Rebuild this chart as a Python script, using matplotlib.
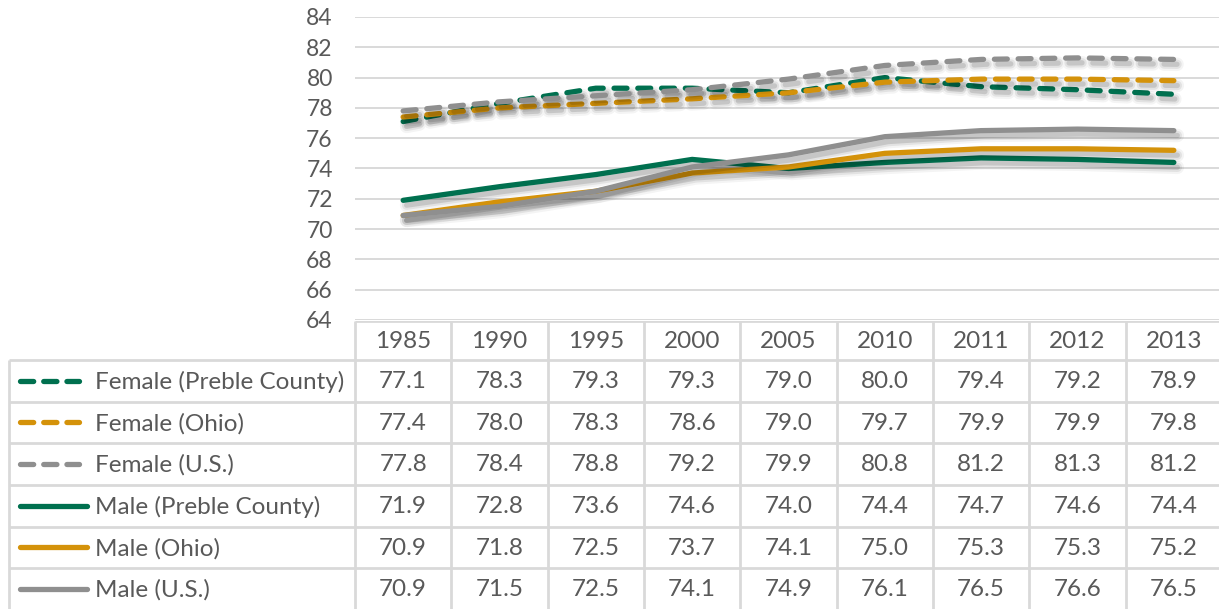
import matplotlib
matplotlib.use("Agg")
import matplotlib.pyplot as plt
import matplotlib.patheffects as pe
from matplotlib.lines import Line2D

# ---- data -------------------------------------------------------------
years = ["1985", "1990", "1995", "2000", "2005", "2010", "2011", "2012", "2013"]

series_names = [
    "Female (Preble County)",
    "Female (Ohio)",
    "Female (U.S.)",
    "Male (Preble County)",
    "Male (Ohio)",
    "Male (U.S.)",
]
female_preble = [77.1, 78.3, 79.3, 79.3, 79.0, 80.0, 79.4, 79.2, 78.9]
female_ohio = [77.4, 78.0, 78.3, 78.6, 79.0, 79.7, 79.9, 79.9, 79.8]
female_us = [77.8, 78.4, 78.8, 79.2, 79.9, 80.8, 81.2, 81.3, 81.2]
male_preble = [71.9, 72.8, 73.6, 74.6, 74.0, 74.4, 74.7, 74.6, 74.4]
male_ohio = [70.9, 71.8, 72.5, 73.7, 74.1, 75.0, 75.3, 75.3, 75.2]
male_us = [70.9, 71.5, 72.5, 74.1, 74.9, 76.1, 76.5, 76.6, 76.5]

y_ticks = [64, 66, 68, 70, 72, 74, 76, 78, 80, 82, 84]

# ---- styling ------------------------------------------------------------
GREEN = "#00704F"
GOLD = "#D4920A"
GRAY = "#8F8F8F"
TEXT = "#595959"
GRID = "#D9D9D9"
FONT = "Lato"
TABLE_FS = 17.5
TICK_FS = 16.5

values = [female_preble, female_ohio, female_us, male_preble, male_ohio, male_us]
colors = [GREEN, GOLD, GRAY, GREEN, GOLD, GRAY]
dashed = [True, True, True, False, False, False]

W, H = 1219, 609
fig = plt.figure(figsize=(W / 100, H / 100), dpi=100)
fig.patch.set_facecolor("white")

# plot area (pixel layout converted to figure fractions)
plot_left, plot_right = 355, 1222
plot_top, plot_bottom = 17, 320
ax = fig.add_axes([plot_left / W, 1 - plot_bottom / H,
                   (plot_right - plot_left) / W, (plot_bottom - plot_top) / H])
ax.set_xlim(-0.5, len(years) - 0.5)
ax.set_ylim(y_ticks[0], y_ticks[-1])
ax.set_yticks(y_ticks)
ax.set_yticklabels([str(t) for t in y_ticks], fontsize=TICK_FS, color=TEXT, family=FONT)
ax.set_xticks([])
ax.tick_params(axis="y", length=0, pad=16)
for s in ax.spines.values():
    s.set_visible(False)
ax.grid(axis="y", color=GRID, linewidth=1.4)
ax.set_axisbelow(True)

LW = 3.8
DASH = (0, (2.45, 2.05))
off = (2.5, -3.5)
shadow = [
    pe.SimpleLineShadow(offset=off, shadow_color="black", alpha=0.045, linewidth=LW + 6),
    pe.SimpleLineShadow(offset=off, shadow_color="black", alpha=0.07, linewidth=LW + 3),
    pe.SimpleLineShadow(offset=off, shadow_color="black", alpha=0.12, linewidth=LW),
    pe.Normal(),
]

x = list(range(len(years)))
for vals, col, dsh in zip(values, colors, dashed):
    ls = DASH if dsh else "-"
    ax.plot(x, vals, color=col, linewidth=LW, linestyle=ls,
            dash_capstyle="round", solid_capstyle="round",
            solid_joinstyle="round", path_effects=shadow)

# ---- data table ---------------------------------------------------------
table_left = 9
col_w = (plot_right - plot_left) / len(years)
rows = [321, 360, 402, 443, 485, 527, 568, 610]

tab = fig.add_axes([0, 0, 1, 1 - rows[0] / H + 0.0001])
tab.set_xlim(0, W)
tab.set_ylim(H, rows[0])
tab.axis("off")

lc = dict(color=GRID, linewidth=2, solid_capstyle="butt")
# horizontal rules
tab.plot([plot_left, plot_right], [rows[0], rows[0]], **lc)
for r in rows[1:]:
    tab.plot([table_left, plot_right], [r, r], **lc)
# vertical rules
tab.plot([table_left, table_left], [rows[1], rows[-1]], **lc)
for i in range(len(years) + 1):
    xv = plot_left + i * col_w
    tab.plot([xv, xv], [rows[0], rows[-1]], **lc)

# header
for i, yr in enumerate(years):
    tab.text(plot_left + (i + 0.5) * col_w, (rows[0] + rows[1]) / 2 + 1, yr,
             ha="center", va="center", fontsize=TABLE_FS, color=TEXT, family=FONT)

# body rows with legend keys
for j, (name, vals, col, dsh) in enumerate(zip(series_names, values, colors, dashed)):
    yc = (rows[j + 1] + rows[j + 2]) / 2
    if dsh:
        tab.add_line(Line2D([19.5, 78.5], [yc, yc], color=col, linewidth=LW,
                            linestyle=(0, (2.5, 1.9)), dash_capstyle="round"))
    else:
        tab.add_line(Line2D([19.5, 86.5], [yc, yc], color=col, linewidth=LW,
                            solid_capstyle="round"))
    tab.text(95, yc + 1, name, ha="left", va="center",
             fontsize=TABLE_FS, color=TEXT, family=FONT)
    for i, v in enumerate(vals):
        tab.text(plot_left + (i + 0.5) * col_w, yc + 1, f"{v:.1f}",
                 ha="center", va="center", fontsize=TABLE_FS, color=TEXT, family=FONT)

fig.savefig("out.png", dpi=100, facecolor="white")
